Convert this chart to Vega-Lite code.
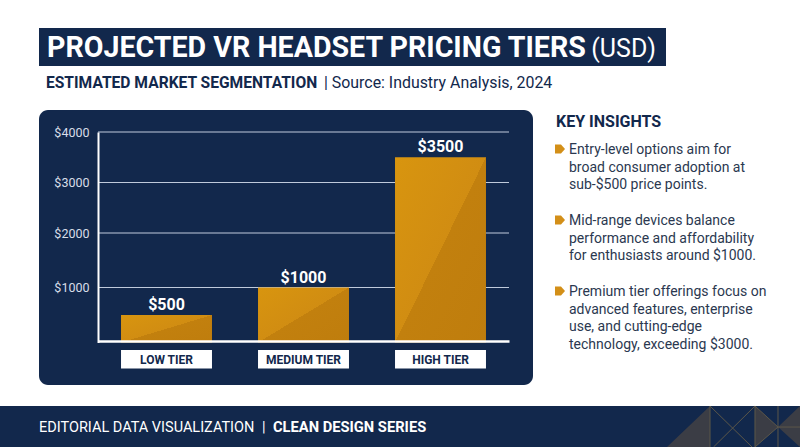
{
  "$schema": "https://vega.github.io/schema/vega-lite/v6.json",
  "width": 800,
  "height": 447,
  "autosize": {"type": "fit", "contains": "padding"},
  "padding": 0,
  "background": "#ffffff",
  "config": {"view": {"stroke": null}, "font": "Roboto"},
  "datasets": {
    "tiers": [
      {"tier": "LOW TIER", "price": 500},
      {"tier": "MEDIUM TIER", "price": 1000},
      {"tier": "HIGH TIER", "price": 3500}
    ],
    "insights": [
      {"rank": 1, "copy": "Entry-level options aim for\nbroad consumer adoption at\nsub-$500 price points."},
      {"rank": 2, "copy": "Mid-range devices balance\nperformance and affordability\nfor enthusiasts around $1000."},
      {"rank": 3, "copy": "Premium tier offerings focus on\nadvanced features, enterprise\nuse, and cutting-edge\ntechnology, exceeding $3000."}
    ]
  },
  "resolve": {
    "scale": {"x": "independent", "y": "independent"},
    "axis": {"x": "independent", "y": "independent"}
  },
  "layer": [
    {
      "data": {"values": [{}]},
      "layer": [
        {
          "mark": {"type": "rect", "fill": "#12284c"},
          "encoding": {
            "x": {"datum": 0, "type": "quantitative", "axis": null, "scale": {"domain": [0, 800], "range": [0, 800], "nice": false}},
            "x2": {"datum": 800},
            "y": {"datum": 406, "type": "quantitative", "axis": null, "scale": {"domain": [0, 447], "range": [0, 447], "nice": false}},
            "y2": {"datum": 447}
          }
        },
        {
          "mark": {"type": "point", "filled": true, "fill": "#3b3d45", "opacity": 1, "size": 17689, "shape": "M-1,.308L-.353,-.308L-.353,.308ZM.323,-.308L.669,.008L.323,.308ZM.669,.008L1,-.308L1,.008ZM.669,.008L1,.308L1,.008Z"},
          "encoding": {"x": {"datum": 733.5, "type": "quantitative", "axis": null}, "y": {"datum": 426.5, "type": "quantitative", "axis": null}}
        },
        {
          "mark": {"type": "point", "filled": false, "stroke": "#5c5749", "strokeWidth": 1, "opacity": 1, "size": 17689, "shape": "M-.353,-.308L-.353,.308M-.353,-.308L.278,.308M.323,-.308L-.3,.308M.323,-.308L.323,.308M.669,-.308L.669,.308M.669,.008L1,.008M.323,-.308L.669,.008L.323,.308"},
          "encoding": {"x": {"datum": 733.5, "type": "quantitative", "axis": null}, "y": {"datum": 426.5, "type": "quantitative", "axis": null}}
        },
        {
          "mark": {"type": "rect", "fill": "#12284c"},
          "encoding": {"x": {"datum": 39, "type": "quantitative", "axis": null}, "x2": {"datum": 666}, "y": {"datum": 28, "type": "quantitative", "axis": null}, "y2": {"datum": 66}}
        },
        {
          "mark": {"type": "rect", "fill": "#12284c", "cornerRadius": 9},
          "encoding": {"x": {"datum": 39, "type": "quantitative", "axis": null}, "x2": {"datum": 533}, "y": {"datum": 110, "type": "quantitative", "axis": null}, "y2": {"datum": 385}}
        },
        {
          "mark": {"type": "text", "text": "PROJECTED VR HEADSET PRICING TIERS", "font": "Roboto", "fontWeight": "bold", "fontSize": 28.6, "fill": "#ffffff", "align": "left", "baseline": "middle"},
          "encoding": {"x": {"datum": 47, "type": "quantitative", "axis": null}, "y": {"datum": 48, "type": "quantitative", "axis": null}}
        },
        {
          "mark": {"type": "text", "text": "(USD)", "font": "Roboto", "fontSize": 25, "fill": "#ffffff", "align": "right", "baseline": "middle"},
          "encoding": {"x": {"datum": 656, "type": "quantitative", "axis": null}, "y": {"datum": 49, "type": "quantitative", "axis": null}}
        },
        {
          "mark": {"type": "text", "text": "ESTIMATED MARKET SEGMENTATION", "font": "Roboto", "fontWeight": "bold", "fontSize": 15.6, "fill": "#12284c", "align": "left", "baseline": "middle"},
          "encoding": {"x": {"datum": 46, "type": "quantitative", "axis": null}, "y": {"datum": 83, "type": "quantitative", "axis": null}}
        },
        {
          "mark": {"type": "text", "text": "| Source: Industry Analysis, 2024", "font": "Roboto", "fontSize": 15.9, "fill": "#12284c", "align": "left", "baseline": "middle"},
          "encoding": {"x": {"datum": 324, "type": "quantitative", "axis": null}, "y": {"datum": 83, "type": "quantitative", "axis": null}}
        },
        {
          "mark": {"type": "text", "text": "EDITORIAL DATA VISUALIZATION", "font": "Roboto", "fontSize": 14.5, "fill": "#ffffff", "align": "left", "baseline": "middle"},
          "encoding": {"x": {"datum": 39, "type": "quantitative", "axis": null}, "y": {"datum": 427.5, "type": "quantitative", "axis": null}}
        },
        {
          "mark": {"type": "text", "text": "|", "font": "Roboto", "fontSize": 14.5, "fill": "#ffffff", "align": "left", "baseline": "middle"},
          "encoding": {"x": {"datum": 262, "type": "quantitative", "axis": null}, "y": {"datum": 427.5, "type": "quantitative", "axis": null}}
        },
        {
          "mark": {"type": "text", "text": "CLEAN DESIGN SERIES", "font": "Roboto", "fontWeight": "bold", "fontSize": 14.7, "fill": "#ffffff", "align": "left", "baseline": "middle"},
          "encoding": {"x": {"datum": 273, "type": "quantitative", "axis": null}, "y": {"datum": 427.5, "type": "quantitative", "axis": null}}
        },
        {
          "mark": {"type": "text", "text": "KEY INSIGHTS", "font": "Roboto", "fontWeight": "bold", "fontSize": 16, "fill": "#12284c", "align": "left", "baseline": "middle"},
          "encoding": {"x": {"datum": 556, "type": "quantitative", "axis": null}, "y": {"datum": 122, "type": "quantitative", "axis": null}}
        }
      ]
    },
    {
      "data": {"name": "insights"},
      "layer": [
        {
          "mark": {"type": "point", "filled": true, "fill": "#d38f18", "opacity": 1, "size": 100, "shape": "M-1,-.9L.2,-.9L1,0L.2,.9L-1,.9Z"},
          "encoding": {
            "x": {"datum": 560, "type": "quantitative", "axis": null, "scale": {"domain": [0, 800], "range": [0, 800], "nice": false}},
            "y": {"field": "rank", "type": "ordinal", "axis": null, "scale": {"type": "point", "padding": 0, "range": [149, 291]}}
          }
        },
        {
          "mark": {"type": "text", "font": "Roboto", "fontSize": 14, "lineHeight": 17.7, "lineBreak": "\n", "fill": "#2b3850", "align": "left", "baseline": "top", "dy": -6},
          "encoding": {
            "x": {"datum": 569, "type": "quantitative", "axis": null},
            "y": {"field": "rank", "type": "ordinal", "axis": null},
            "text": {"field": "copy"}
          }
        }
      ]
    },
    {
      "data": {"values": [{"tick": 1000}, {"tick": 2000}, {"tick": 3000}, {"tick": 4000}]},
      "mark": {"type": "rule", "stroke": "#bfcadb", "strokeWidth": 1.2},
      "encoding": {
        "x": {"datum": 98, "type": "quantitative", "axis": null, "scale": {"domain": [0, 800], "range": [0, 800], "nice": false}},
        "x2": {"datum": 509},
        "y": {
          "field": "tick", "type": "quantitative",
          "scale": {"domain": [0, 1000, 2000, 3000, 4000], "range": [342.5, 287.5, 233, 182.5, 132]},
          "axis": {"values": [1000, 2000, 3000, 4000], "orient": "left", "offset": -98, "format": "$d", "title": null, "grid": false, "ticks": false, "domain": true, "domainColor": "#ffffff", "domainWidth": 2, "labelColor": "#d8dee8", "labelFont": "Roboto", "labelFontSize": 12.5, "labelPadding": 9, "zindex": 1}
        }
      }
    },
    {
      "data": {"name": "tiers"},
      "encoding": {
        "x": {
          "field": "tier", "type": "nominal", "sort": null,
          "scale": {"type": "band", "range": [98, 509], "paddingInner": 0.336, "paddingOuter": 0.168},
          "axis": {"orient": "bottom", "offset": -104, "title": null, "labelAngle": 0, "ticks": false, "domain": true, "domainColor": "#ffffff", "domainWidth": 2.5, "labelColor": "#12284c", "labelFont": "Roboto", "labelFontWeight": "bold", "labelFontSize": 12, "labelPadding": 13, "zindex": 1}
        }
      },
      "layer": [
        {
          "mark": {"type": "bar", "fill": "#ffffff"},
          "encoding": {
            "y": {"datum": -136, "type": "quantitative", "axis": null, "scale": {"domain": [0, 1000, 2000, 3000, 4000], "range": [342.5, 287.5, 233, 182.5, 132]}},
            "y2": {"datum": -473}
          }
        },
        {
          "mark": {
            "type": "bar",
            "fill": {
              "x1": 0, "y1": 0, "x2": 1, "y2": 1, "gradient": "linear",
              "stops": [
                {"offset": 0, "color": "#d8950f"},
                {"offset": 0.5, "color": "#d18d12"},
                {"offset": 0.5, "color": "#c2800e"},
                {"offset": 1, "color": "#bf7d0d"}
              ]
            }
          },
          "encoding": {"y": {"field": "price", "type": "quantitative", "axis": null}}
        },
        {
          "mark": {"type": "text", "font": "Roboto", "fontWeight": "bold", "fontSize": 16, "fill": "#ffffff", "baseline": "bottom", "dy": -2},
          "encoding": {
            "y": {"field": "price", "type": "quantitative", "axis": null},
            "text": {"field": "price", "format": "$d"}
          }
        }
      ]
    }
  ]
}
